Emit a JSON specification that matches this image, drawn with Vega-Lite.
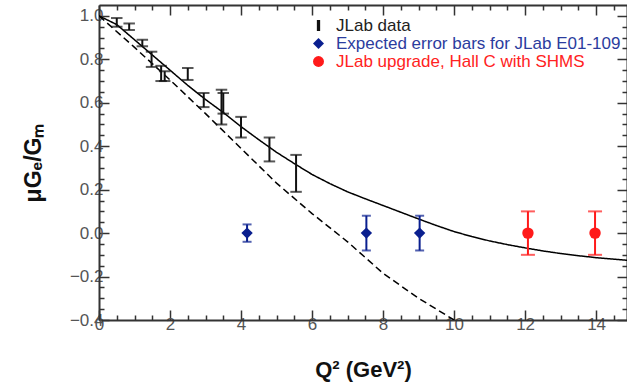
{
  "$schema": "https://vega.github.io/schema/vega-lite/v6.json",
  "width": 528,
  "height": 315,
  "autosize": {"type": "none"},
  "padding": {"left": 99, "top": 5, "right": 0, "bottom": 63},
  "config": {
    "view": {"stroke": null},
    "font": "Liberation Sans",
    "axis": {
      "grid": false,
      "domainColor": "#333333",
      "domainWidth": 2,
      "tickColor": "#333333",
      "tickWidth": 1.5,
      "labelColor": "#555555",
      "labelFont": "Liberation Sans",
      "labelFontSize": 17
    }
  },
  "datasets": {
    "curves": [
      {"q": 0, "v": 1.0, "curve": "fit"},
      {"q": 0.5, "v": 0.96, "curve": "fit"},
      {"q": 1, "v": 0.89, "curve": "fit"},
      {"q": 1.5, "v": 0.82, "curve": "fit"},
      {"q": 2, "v": 0.75, "curve": "fit"},
      {"q": 2.5, "v": 0.68, "curve": "fit"},
      {"q": 3, "v": 0.615, "curve": "fit"},
      {"q": 3.5, "v": 0.555, "curve": "fit"},
      {"q": 4, "v": 0.49, "curve": "fit"},
      {"q": 4.5, "v": 0.43, "curve": "fit"},
      {"q": 5, "v": 0.372, "curve": "fit"},
      {"q": 5.5, "v": 0.32, "curve": "fit"},
      {"q": 6, "v": 0.27, "curve": "fit"},
      {"q": 6.5, "v": 0.228, "curve": "fit"},
      {"q": 7, "v": 0.19, "curve": "fit"},
      {"q": 7.5, "v": 0.158, "curve": "fit"},
      {"q": 8, "v": 0.127, "curve": "fit"},
      {"q": 8.5, "v": 0.096, "curve": "fit"},
      {"q": 9, "v": 0.065, "curve": "fit"},
      {"q": 9.5, "v": 0.035, "curve": "fit"},
      {"q": 10, "v": 0.007, "curve": "fit"},
      {"q": 10.5, "v": -0.016, "curve": "fit"},
      {"q": 11, "v": -0.036, "curve": "fit"},
      {"q": 11.5, "v": -0.053, "curve": "fit"},
      {"q": 12, "v": -0.068, "curve": "fit"},
      {"q": 12.5, "v": -0.082, "curve": "fit"},
      {"q": 13, "v": -0.094, "curve": "fit"},
      {"q": 13.5, "v": -0.104, "curve": "fit"},
      {"q": 14, "v": -0.113, "curve": "fit"},
      {"q": 14.5, "v": -0.12, "curve": "fit"},
      {"q": 14.87, "v": -0.125, "curve": "fit"},
      {"q": 0, "v": 1.0, "curve": "linear"},
      {"q": 1, "v": 0.855, "curve": "linear"},
      {"q": 2, "v": 0.705, "curve": "linear"},
      {"q": 3, "v": 0.55, "curve": "linear"},
      {"q": 4, "v": 0.39, "curve": "linear"},
      {"q": 5, "v": 0.23, "curve": "linear"},
      {"q": 6, "v": 0.09, "curve": "linear"},
      {"q": 7, "v": -0.04, "curve": "linear"},
      {"q": 8, "v": -0.185, "curve": "linear"},
      {"q": 9, "v": -0.3, "curve": "linear"},
      {"q": 10, "v": -0.4, "curve": "linear"}
    ],
    "points": [
      {"series": "JLab data", "q": 0.5, "v": 0.97, "lo": 0.95, "hi": 0.99},
      {"series": "JLab data", "q": 0.85, "v": 0.95, "lo": 0.935, "hi": 0.965},
      {"series": "JLab data", "q": 1.22, "v": 0.875, "lo": 0.86, "hi": 0.89},
      {"series": "JLab data", "q": 1.48, "v": 0.8, "lo": 0.765, "hi": 0.835},
      {"series": "JLab data", "q": 1.75, "v": 0.735, "lo": 0.7, "hi": 0.77},
      {"series": "JLab data", "q": 1.85, "v": 0.72, "lo": 0.7, "hi": 0.745},
      {"series": "JLab data", "q": 2.5, "v": 0.73, "lo": 0.705, "hi": 0.76},
      {"series": "JLab data", "q": 2.95, "v": 0.61, "lo": 0.58, "hi": 0.645},
      {"series": "JLab data", "q": 3.45, "v": 0.58, "lo": 0.5, "hi": 0.66},
      {"series": "JLab data", "q": 3.5, "v": 0.6, "lo": 0.55, "hi": 0.645},
      {"series": "JLab data", "q": 4.0, "v": 0.487, "lo": 0.44, "hi": 0.535},
      {"series": "JLab data", "q": 4.8, "v": 0.385, "lo": 0.33, "hi": 0.44},
      {"series": "JLab data", "q": 5.55, "v": 0.275, "lo": 0.19, "hi": 0.36},
      {"series": "Expected error bars for JLab E01-109", "q": 4.17, "v": 0, "lo": -0.04, "hi": 0.04},
      {"series": "Expected error bars for JLab E01-109", "q": 7.53, "v": 0, "lo": -0.08, "hi": 0.08},
      {"series": "Expected error bars for JLab E01-109", "q": 9.03, "v": 0, "lo": -0.08, "hi": 0.08},
      {"series": "JLab upgrade, Hall C with SHMS", "q": 12.08, "v": 0, "lo": -0.1, "hi": 0.1},
      {"series": "JLab upgrade, Hall C with SHMS", "q": 13.97, "v": 0, "lo": -0.1, "hi": 0.1}
    ]
  },
  "resolve": {
    "scale": {"size": "independent"},
    "axis": {"x": "independent", "y": "independent"}
  },
  "layer": [
    {
      "data": {"name": "curves"},
      "mark": {"type": "line", "color": "black", "strokeWidth": 1.5, "clip": true},
      "encoding": {
        "x": {
          "field": "q",
          "type": "quantitative",
          "scale": {"domain": [0, 14.87], "nice": false, "zero": false},
          "axis": {
            "orient": "bottom",
            "values": [0, 0.5, 1, 1.5, 2, 2.5, 3, 3.5, 4, 4.5, 5, 5.5, 6, 6.5, 7, 7.5, 8, 8.5, 9, 9.5, 10, 10.5, 11, 11.5, 12, 12.5, 13, 13.5, 14, 14.5],
            "format": ".1f",
            "labelExpr": "datum.value % 2 === 0 ? format(datum.value, 'd') : ''",
            "labelOverlap": false,
            "tickSize": {"condition": {"test": "datum.value % 2 === 0", "value": -10}, "value": -5},
            "labelPadding": 6,
            "labelFlush": false,
            "titleFontSize": 22,
            "titleFontWeight": "bold",
            "titleColor": "#111111",
            "titlePadding": 22
          },
          "title": "Q² (GeV²)"
        },
        "y": {
          "field": "v",
          "type": "quantitative",
          "scale": {"domain": [-0.4, 1.05], "nice": false, "zero": false},
          "axis": {
            "orient": "left",
            "values": [-0.4, -0.35, -0.3, -0.25, -0.2, -0.15, -0.1, -0.05, 0, 0.05, 0.1, 0.15, 0.2, 0.25, 0.3, 0.35, 0.4, 0.45, 0.5, 0.55, 0.6, 0.65, 0.7, 0.75, 0.8, 0.85, 0.9, 0.95, 1.0],
            "format": ".1f",
            "labelExpr": "abs(round(datum.value * 20)) % 4 === 0 ? datum.label : ''",
            "labelOverlap": false,
            "tickSize": {"condition": {"test": "abs(round(datum.value * 20)) % 4 === 0", "value": -10}, "value": -5},
            "labelPadding": 6,
            "labelFlush": false,
            "titleFontSize": 23,
            "titleFontWeight": "bold",
            "titleColor": "#111111",
            "titlePadding": 24
          },
          "title": "μGₑ/Gₘ"
        },
        "strokeDash": {
          "field": "curve",
          "type": "nominal",
          "scale": {"domain": ["fit", "linear"], "range": [[1, 0], [7, 4]]},
          "legend": null
        }
      }
    },
    {
      "mark": {"type": "rule", "color": "black", "strokeWidth": 1.5},
      "encoding": {"y": {"datum": 0, "type": "quantitative", "axis": null}}
    },
    {
      "data": {"name": "points"},
      "mark": {"type": "rule", "strokeWidth": 2},
      "encoding": {
        "x": {
          "field": "q",
          "type": "quantitative",
          "axis": {
            "orient": "top",
            "labels": false,
            "title": null,
            "values": [0, 0.5, 1, 1.5, 2, 2.5, 3, 3.5, 4, 4.5, 5, 5.5, 6, 6.5, 7, 7.5, 8, 8.5, 9, 9.5, 10, 10.5, 11, 11.5, 12, 12.5, 13, 13.5, 14, 14.5],
            "tickSize": {"condition": {"test": "datum.value % 2 === 0", "value": -10}, "value": -5}
          }
        },
        "y": {
          "field": "lo",
          "type": "quantitative",
          "axis": {
            "orient": "right",
            "labels": false,
            "title": null,
            "values": [-0.4, -0.35, -0.3, -0.25, -0.2, -0.15, -0.1, -0.05, 0, 0.05, 0.1, 0.15, 0.2, 0.25, 0.3, 0.35, 0.4, 0.45, 0.5, 0.55, 0.6, 0.65, 0.7, 0.75, 0.8, 0.85, 0.9, 0.95, 1.0],
            "tickSize": {"condition": {"test": "abs(round(datum.value * 20)) % 4 === 0", "value": -10}, "value": -5}
          }
        },
        "y2": {"field": "hi"},
        "stroke": {
          "field": "series",
          "type": "nominal",
          "scale": {"range": ["#0a1f8f", "#111111", "#ff1a1a"]},
          "legend": null
        }
      }
    },
    {
      "data": {"name": "points"},
      "mark": {"type": "tick", "orient": "horizontal", "thickness": 2},
      "encoding": {
        "x": {"field": "q", "type": "quantitative", "axis": null},
        "y": {"field": "lo", "type": "quantitative", "axis": null},
        "fill": {
          "field": "series",
          "type": "nominal",
          "scale": {"range": ["#0a1f8f", "#111111", "#ff1a1a"]},
          "legend": null
        },
        "size": {
          "field": "series",
          "type": "nominal",
          "scale": {"range": [9, 14, 9]},
          "legend": null
        }
      }
    },
    {
      "data": {"name": "points"},
      "mark": {"type": "tick", "orient": "horizontal", "thickness": 2},
      "encoding": {
        "x": {"field": "q", "type": "quantitative", "axis": null},
        "y": {"field": "hi", "type": "quantitative", "axis": null},
        "fill": {"field": "series", "type": "nominal", "legend": null},
        "size": {
          "field": "series",
          "type": "nominal",
          "scale": {"range": [9, 14, 9]},
          "legend": null
        }
      }
    },
    {
      "data": {"name": "points"},
      "transform": [{"filter": "datum.series !== 'JLab data'"}],
      "mark": {"type": "point", "filled": true, "opacity": 1, "size": 130},
      "encoding": {
        "x": {"field": "q", "type": "quantitative", "axis": null},
        "y": {"field": "v", "type": "quantitative", "axis": null},
        "color": {
          "field": "series",
          "type": "nominal",
          "scale": {
            "domain": ["JLab data", "Expected error bars for JLab E01-109", "JLab upgrade, Hall C with SHMS"],
            "range": ["#111111", "#0a1f8f", "#ff1a1a"]
          },
          "legend": {
            "title": null,
            "orient": "none",
            "legendX": 211,
            "legendY": 12,
            "padding": 0,
            "labelFont": "Liberation Sans",
            "labelFontSize": 17,
            "labelLimit": 400,
            "labelOffset": 9,
            "symbolSize": 120,
            "rowPadding": 0,
            "labelColor": {"expr": "datum.value === 'JLab data' ? '#222222' : (datum.value === 'JLab upgrade, Hall C with SHMS' ? '#ff2222' : '#2b3c9e')"}
          }
        },
        "shape": {
          "field": "series",
          "type": "nominal",
          "scale": {
            "domain": ["JLab data", "Expected error bars for JLab E01-109", "JLab upgrade, Hall C with SHMS"],
            "range": ["M-0.3,-1H0.3V1H-0.3Z", "diamond", "circle"]
          }
        }
      }
    }
  ]
}
